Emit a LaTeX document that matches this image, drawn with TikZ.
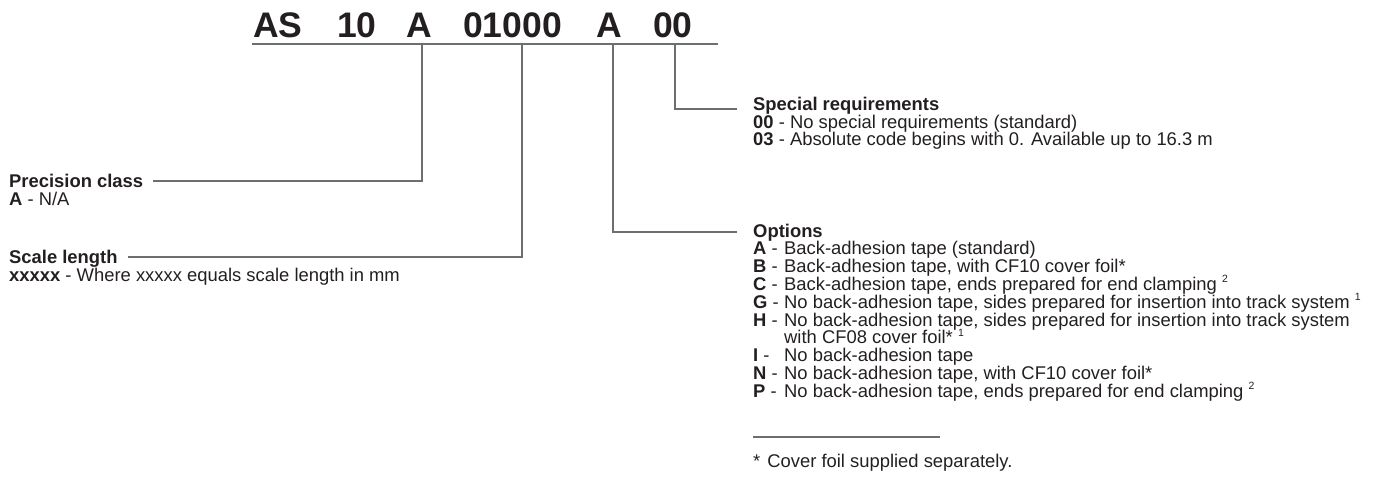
\documentclass[tikz,border=0pt]{standalone}
\usepackage{fontspec}
\setmainfont{Liberation Sans}
\usetikzlibrary{calc}
\definecolor{txt}{HTML}{231F20}
\definecolor{ln}{HTML}{6D6E71}
\newcommand\fnsup[1]{\raisebox{0.42em}{\fontsize{10.5}{10.5}\selectfont #1}}
\begin{document}
\begin{tikzpicture}[x=1pt,y=-1pt,
  body/.style={anchor=base west,inner sep=0pt,text=txt,font=\fontsize{18.4}{18}\selectfont},
  head/.style={anchor=base west,inner sep=0pt,text=txt,font=\fontsize{18.4}{18}\selectfont\bfseries},
  code/.style={anchor=base west,inner sep=0pt,text=txt,font=\fontsize{35.5}{35.5}\selectfont\bfseries},
  conn/.style={draw=ln,line width=1.7pt},
  rulestyle/.style={draw=ln,line width=2pt}]
\useasboundingbox (0,0) rectangle (1388,501);

% order code
\node[code] (c1) at (253,37) {AS};
\node[code] (c2) at (337,37) {10};
\node[code] (c3) at (406,37) {A};
\node[code] (c4) at (463,37) {01000};
\node[code] (c5) at (596,37) {A};
\node[code] (c6) at (653,37) {00};
\coordinate (rl) at (252,44);
\coordinate (rr) at (718,44);
\draw[rulestyle] (rl) -- (rr);
\coordinate (t3) at (422,44);
\coordinate (t4) at (522,44);
\coordinate (t5) at (613,44);
\coordinate (t6) at (675,44);

% left blocks
\node[head] (prec) at (9,187) {Precision class};
\node[body] (precA) at (9,205) {\textbf{A} - N/A};
\node[head] (scale) at (9,263) {Scale length};
\node[body] (scaleX) at (9,281) {\textbf{xxxxx} - Where xxxxx equals scale length in mm};

% special requirements
\node[head] (spec) at (753,110.5) {Special requirements};
\node[body] (spec1) at (753,128.2) {\textbf{00} - No special requirements (standard)};
\node[body] (spec2) at (753,145.9) {\textbf{03} - Absolute code begins with 0. Available up to 16.3 m};

% options
\node[head] (opt) at (753,237) {Options};
\node[body] (oA) at (753,254.8) {\makebox[31pt][l]{\textbf{A} -}Back-adhesion tape (standard)};
\node[body] (oB) at (753,272.6) {\makebox[31pt][l]{\textbf{B} -}Back-adhesion tape, with CF10 cover foil*};
\node[body] (oC) at (753,290.4) {\makebox[31pt][l]{\textbf{C} -}Back-adhesion tape, ends prepared for end clamping \fnsup{2}};
\node[body] (oG) at (753,308.2) {\makebox[31pt][l]{\textbf{G} -}No back-adhesion tape, sides prepared for insertion into track system \fnsup{1}};
\node[body] (oH) at (753,326) {\makebox[31pt][l]{\textbf{H} -}No back-adhesion tape, sides prepared for insertion into track system};
\node[body] (oH2) at (784,343.8) {with CF08 cover foil* \fnsup{1}};
\node[body] (oI) at (753,361.6) {\makebox[31pt][l]{\textbf{I} -}No back-adhesion tape};
\node[body] (oN) at (753,379.4) {\makebox[31pt][l]{\textbf{N} -}No back-adhesion tape, with CF10 cover foil*};
\node[body] (oP) at (753,397.2) {\makebox[31pt][l]{\textbf{P} -}No back-adhesion tape, ends prepared for end clamping \fnsup{2}};

% footnote
\coordinate (fl) at (753,437);
\coordinate (fr) at (940,437);
\draw[rulestyle] (fl) -- (fr);
\node[body] (fn) at (753,467) {*\hspace{7pt}Cover foil supplied separately.};

% connectors
\coordinate (e3) at ($(prec.base east)+(10,-6)$);
\coordinate (e4) at ($(scale.base east)+(10,-6)$);
\coordinate (e5) at ($(opt.base west)+(-16,-5)$);
\coordinate (e6) at ($(spec.base west)+(-16,-1.5)$);
\draw[conn] (t3) |- (e3);
\draw[conn] (t4) |- (e4);
\draw[conn] (t5) |- (e5);
\draw[conn] (t6) |- (e6);
\end{tikzpicture}
\end{document}
